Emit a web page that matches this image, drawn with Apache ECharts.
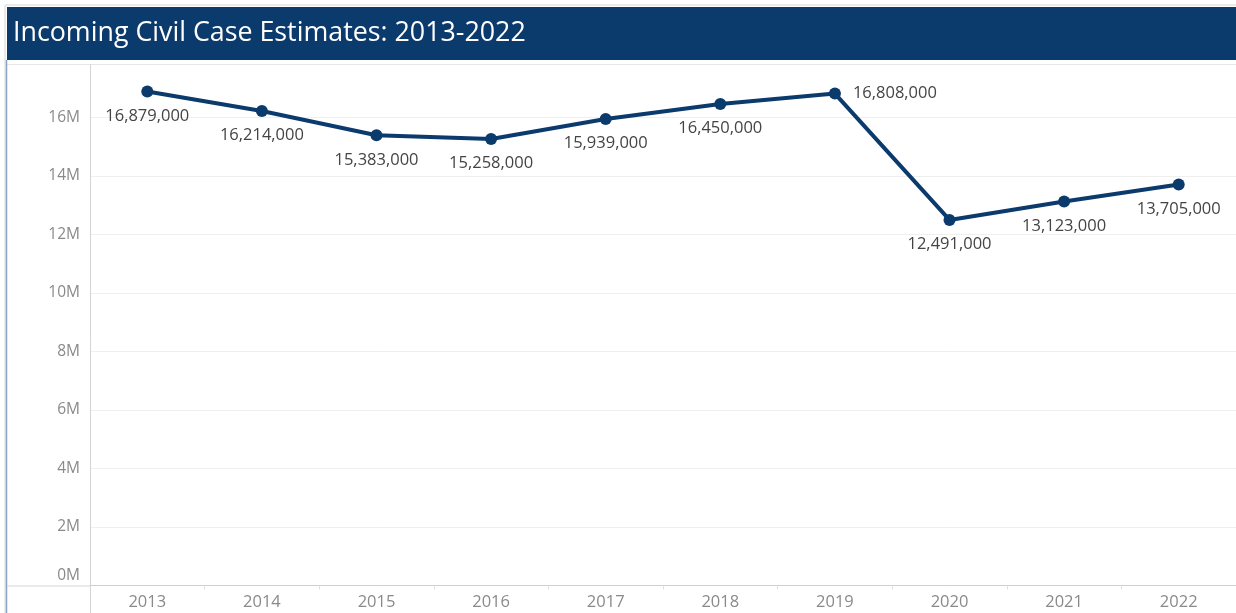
<!DOCTYPE html>
<html><head><meta charset="utf-8">
<script src="https://cdn.jsdelivr.net/npm/echarts@6/dist/echarts.min.js"></script>
<style>html,body{margin:0;padding:0;background:#fff}#c{width:1236px;height:613px}</style>
</head><body><div id="c"></div>
<script>
const titleText = 'Incoming Civil Case Estimates: 2013-2022';
const years = ['2013','2014','2015','2016','2017','2018','2019','2020','2021','2022'];
const cases = [16879000,16214000,15383000,15258000,15939000,16450000,16808000,12491000,13123000,13705000];
const labelPos = ['bottom','bottom','bottom','bottom','bottom','bottom','right','bottom','bottom','bottom'];

const FONT = '"Open Sans", "Noto Sans", sans-serif';
const chart = echarts.init(document.getElementById('c'));
chart.setOption({
  animation: false,
  backgroundColor: '#fff',
  textStyle: { fontFamily: FONT },
  graphic: [
    { type: 'rect', shape: { x: 5, y: 5, width: 1236, height: 610 }, style: { fill: 'none', stroke: '#d6d6d6', lineWidth: 1 }, z: 0 },
    { type: 'rect', shape: { x: 7, y: 7, width: 1229, height: 53 }, style: { fill: '#0b3a6c' }, z: 10 },
    { type: 'text', left: 13, top: 20, style: { text: titleText, fill: '#fff', font: '26.8px ' + FONT }, z: 11 },
    { type: 'line', shape: { x1: 7, y1: 64.5, x2: 1236, y2: 64.5 }, style: { stroke: '#e6e6e6', lineWidth: 1 }, z: 1 },
    { type: 'line', shape: { x1: 6.5, y1: 60, x2: 6.5, y2: 613 }, style: { stroke: '#8aa3c4', lineWidth: 1.5 }, z: 1 },
    { type: 'line', shape: { x1: 90.5, y1: 64, x2: 90.5, y2: 613 }, style: { stroke: '#d4d4d4', lineWidth: 1 }, z: 1 },
    { type: 'line', shape: { x1: 7, y1: 586, x2: 90, y2: 586 }, style: { stroke: '#d4d4d4', lineWidth: 1 }, z: 1 }
  ],
  grid: { left: 90, right: 0, top: 64, bottom: 27.5, containLabel: false },
  xAxis: {
    type: 'category', data: years, boundaryGap: true,
    axisLine: { show: true, lineStyle: { color: '#cfcfcf', width: 1 } },
    axisTick: { show: true, length: 4, lineStyle: { color: '#e0e0e0' } },
    axisLabel: { color: '#8a8a8a', fontSize: 16.5, margin: 8, fontFamily: FONT },
    splitLine: { show: false }
  },
  yAxis: {
    type: 'value', min: 0, max: 17820000, interval: 2000000,
    axisLine: { show: false }, axisTick: { show: false },
    splitLine: { show: true, lineStyle: { color: '#efefef', width: 1 } },
    axisLabel: {
      color: '#8a8a8a', fontSize: 15.5, margin: 10, fontFamily: FONT, showMaxLabel: false,
      formatter: v => v % 2000000 !== 0 ? '' : (v === 0 ? '{z|0M}' : (v / 1000000) + 'M'),
      rich: { z: { color: '#8a8a8a', fontSize: 15.5, fontFamily: FONT, padding: [0, 0, 20, 0] } }
    }
  },
  series: [{
    type: 'line', data: cases.map((v, i) => ({ value: v, label: { position: labelPos[i], distance: labelPos[i] === 'right' ? 12 : 10 } })),
    symbol: 'circle', symbolSize: 12,
    lineStyle: { color: '#0b3a6c', width: 4 },
    itemStyle: { color: '#0b3a6c' },
    label: { show: true, color: '#444', fontSize: 16.5, fontFamily: FONT, formatter: p => p.value.toLocaleString('en-US') },
    z: 5
  }]
});
</script></body></html>
